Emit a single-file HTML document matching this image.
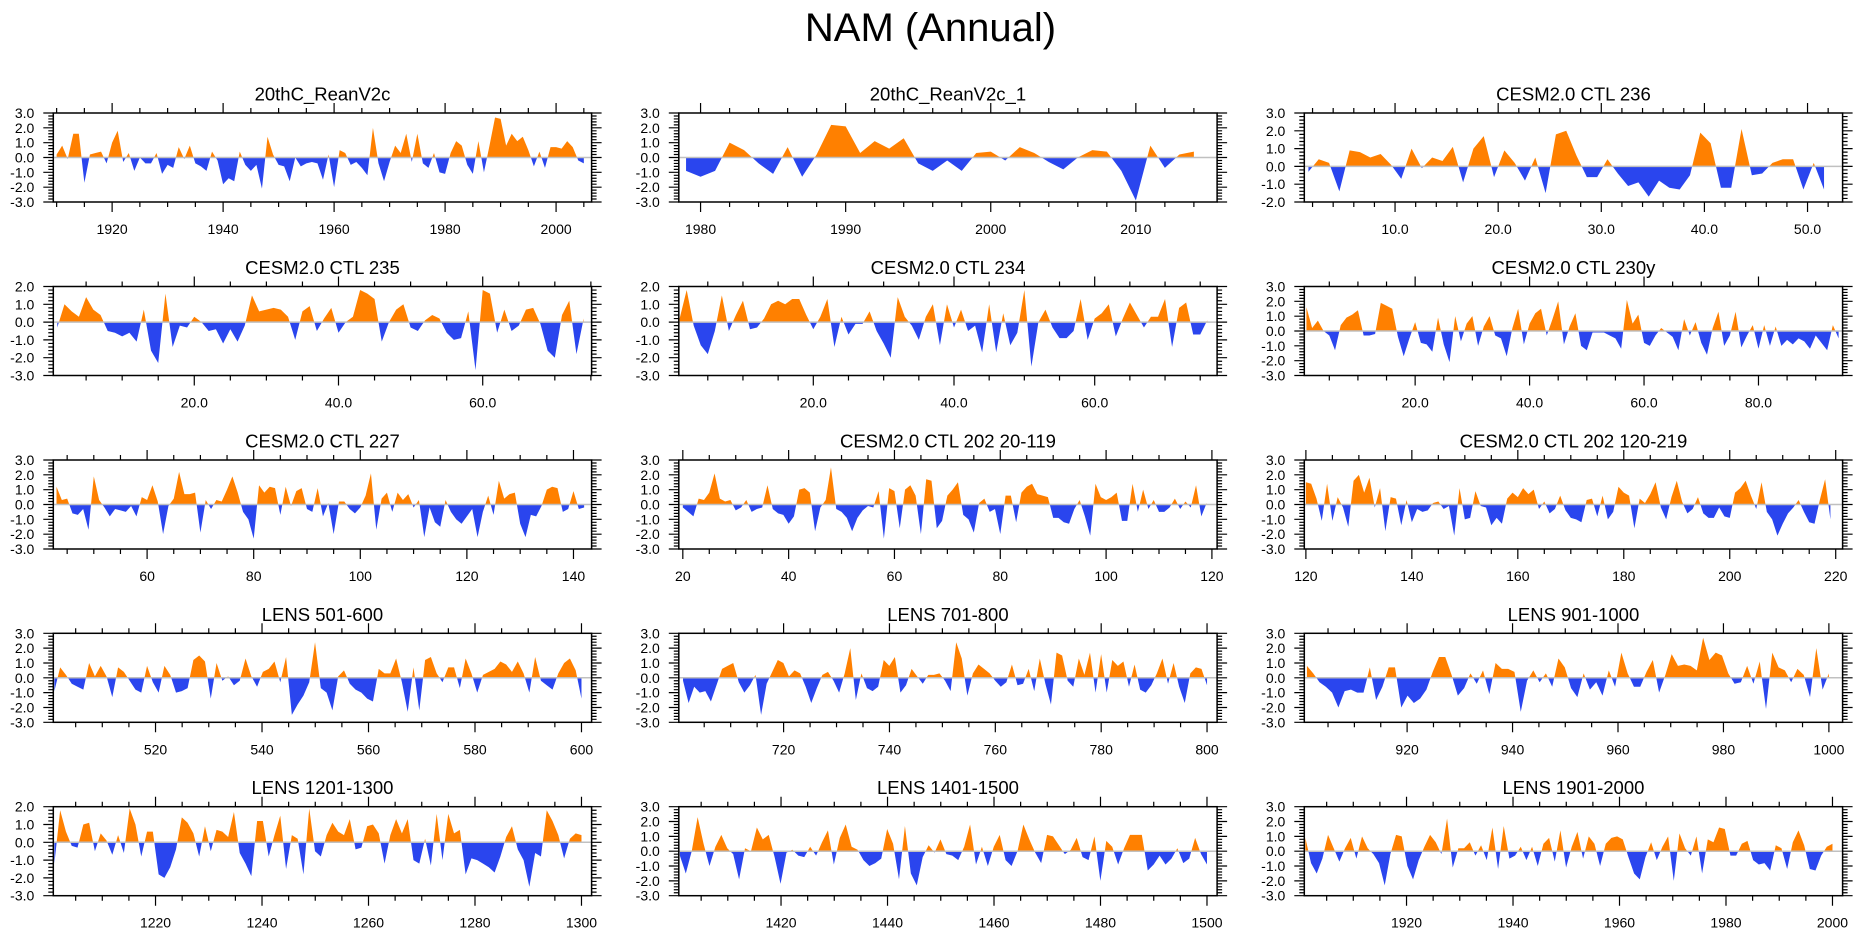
<!DOCTYPE html>
<html><head><meta charset="utf-8"><style>
html,body{margin:0;padding:0;background:#fff;}
svg{display:block;font-family:"Liberation Sans",Arial,sans-serif;}
</style></head><body>
<svg id="chart" width="1861" height="936" viewBox="0 0 1861 936" xmlns="http://www.w3.org/2000/svg">
<text x="930.5" y="28" font-size="40" text-anchor="middle" dominant-baseline="central">NAM (Annual)</text>
</svg>
<script>
const titles = ["20thC_ReanV2c","20thC_ReanV2c_1","CESM2.0 CTL 236","CESM2.0 CTL 235","CESM2.0 CTL 234","CESM2.0 CTL 230y","CESM2.0 CTL 227","CESM2.0 CTL 202 20-119","CESM2.0 CTL 202 120-219","LENS 501-600","LENS 701-800","LENS 901-1000","LENS 1201-1300","LENS 1401-1500","LENS 1901-2000"];
const xStart = [1910,1979,1.6,1,1,1,43,20,120,501,701,901,1201,1401,1901];
const xEnd = [2005,2014,51.6,74,76,94,142,119,219,600,800,1000,1300,1500,2000];
const axisXMin = [1909.4,1978.5,1.2,0.45,0.88,0.63,42.4,19.24,119.7,500.8,700.2,900.5,1200.8,1400.8,1900.8];
const axisXMax = [2006.4,2015.6,53.4,75.1,77.4,94.7,143.4,120.98,221.3,601.9,801.9,1002.6,1301.9,1501.9,2001.9];
const axisYMin = [-3,-3,-2,-3,-3,-3,-3,-3,-3,-3,-3,-3,-3,-3,-3];
const axisYMax = [3,3,3,2,2,3,3,3,3,3,3,3,2,3,3];
const majorStep = [20,10,10,20,20,20,20,20,20,20,20,20,20,20,20];
const minorStep = [5,2,2,5,5,5,5,5,5,5,5,5,5,5,5];
const labelDecimals = [0,0,1,1,1,1,0,0,0,0,0,0,0,0,0];

const p1Values = [0.2,0.8,-0.1,1.6,1.6,-1.7,0.2,0.3,0.4,-0.4,1.0,1.8,-0.3,0.3,-0.9,0.0,-0.4,-0.4,0.3,-1.1,-0.5,-0.7,0.7,-0.1,0.8,-0.4,-0.6,-0.9,0.4,-0.2,-1.8,-1.4,-1.6,0.4,-0.5,-0.9,-0.5,-2.1,1.4,0.2,-0.5,-0.6,-1.6,0.0,-0.6,-0.4,-0.3,-0.4,-1.5,0.2,-2.0,0.5,0.3,-0.5,-0.3,-0.7,-1.2,2.0,-0.4,-1.6,-0.3,0.8,0.3,1.6,-0.3,1.6,-0.4,-0.7,0.3,-1.0,-1.1,0.3,1.1,0.8,-0.5,-1.1,1.1,-1.0,0.8,2.7,2.6,0.8,1.6,1.1,1.4,0.5,-0.6,0.4,-0.7,0.7,0.7,0.6,1.1,0.7,-0.2,-0.4];
const p2Values = [-0.9,-1.3,-0.9,1.0,0.5,-0.4,-1.1,0.7,-1.3,0.2,2.2,2.1,0.3,1.1,0.6,1.3,-0.4,-0.9,-0.2,-0.9,0.3,0.4,-0.2,0.7,0.3,-0.3,-0.8,0.0,0.5,0.4,-0.9,-2.9,0.8,-0.7,0.2,0.4];
const p3Values = [-0.3,0.4,0.2,-1.4,0.9,0.8,0.5,0.7,0.1,-0.7,1.0,-0.1,0.5,0.3,1.1,-0.9,1.0,1.7,-0.6,0.9,0.2,-0.8,0.5,-1.5,1.8,2.0,0.6,-0.6,-0.6,0.4,-0.4,-1.1,-0.9,-1.7,-0.8,-1.2,-1.3,-0.5,1.9,1.3,-1.2,-1.2,2.1,-0.5,-0.4,0.2,0.4,0.4,-1.3,0.2,-1.3];
const p4Values = [-0.3,1.0,0.6,0.3,1.4,0.7,0.4,-0.5,-0.6,-0.8,-0.6,-1.1,0.7,-1.6,-2.3,1.6,-1.4,-0.2,-0.3,0.3,0.0,-0.5,-0.4,-1.2,-0.4,-1.1,-0.2,1.5,0.6,0.7,0.8,0.7,0.3,-1.0,0.6,0.9,-0.5,0.2,0.8,-0.6,0.0,0.3,1.8,1.6,1.3,-1.1,0.0,0.7,1.0,-0.3,-0.5,0.1,0.4,0.2,-0.6,-1.0,-0.9,0.6,-2.7,1.8,1.6,-0.6,0.7,-0.5,-0.2,0.7,0.8,-0.1,-1.6,-2.0,0.4,1.2,-1.8,0.2];
const p5Values = [0.2,1.8,-0.2,-1.3,-1.8,-0.5,1.5,-0.5,0.4,1.2,-0.4,-0.3,0.2,1.0,1.2,1.0,1.3,1.3,0.4,-0.4,0.3,1.3,-1.4,0.3,-0.7,-0.1,-0.1,0.6,-0.5,-1.2,-2.0,1.4,0.3,-0.2,-1.0,0.3,1.0,-1.3,1.0,-0.3,0.7,-0.5,-0.2,-1.7,1.0,-1.7,0.5,-1.3,-0.6,1.8,-2.5,0.0,0.7,-0.3,-0.9,-0.9,-0.5,1.3,-1.0,0.2,0.5,1.0,-0.8,0.2,1.1,0.4,-0.3,0.3,0.3,1.3,-1.4,0.8,1.1,-0.7,-0.7,0.1];
const p6Values = [1.6,0.2,0.7,0.0,-0.3,-1.3,0.4,0.9,1.1,1.4,-0.3,-0.3,-0.2,1.9,1.7,1.5,-0.4,-1.7,-0.5,0.6,-0.8,-0.9,-1.4,0.9,-0.9,-2.1,1.0,-0.7,0.5,1.0,-1.0,0.3,1.0,-0.3,-0.5,-1.7,0.2,1.5,-0.9,0.5,1.2,1.5,-0.3,0.8,2.0,-0.9,0.3,1.2,-1.0,-1.3,-0.1,-0.1,-0.1,-0.3,-0.5,-1.2,2.1,0.5,1.1,-0.8,-1.0,-0.3,0.2,-0.1,-0.4,-1.3,0.8,-0.3,0.6,-0.8,-1.6,0.2,1.3,-1.0,-0.3,1.3,-1.1,-0.3,0.4,-1.2,0.4,-1.0,0.3,-1.0,-0.6,-0.9,-0.5,-0.7,-1.2,-0.3,-0.8,-1.3,0.4,-0.5];
const p7Values = [1.2,0.3,0.4,-0.6,-0.7,-0.3,-1.7,1.9,0.3,-0.2,-0.8,-0.3,-0.4,-0.5,-0.1,-0.8,0.5,0.3,1.3,0.2,-2.0,-0.1,0.4,2.2,0.7,0.7,0.8,-1.9,0.3,-0.3,0.3,0.2,1.0,1.9,0.8,-0.5,-1.0,-2.3,1.3,0.8,1.2,1.1,-0.7,1.2,-0.1,0.9,1.1,-0.3,-0.5,1.1,-0.8,0.1,-2.0,0.2,0.2,-0.3,-0.6,-0.2,0.6,2.1,-1.7,0.4,0.8,-0.5,0.8,0.3,0.7,-0.2,0.3,-2.2,-0.2,-1.2,-1.5,0.3,-0.5,-1.0,-1.3,-0.8,-0.3,-2.2,-0.5,0.6,-0.7,1.6,0.4,0.7,0.8,-1.3,-2.2,-0.7,-0.8,-0.1,1.0,1.2,1.1,-0.5,-0.3,0.9,-0.3,-0.2];
const p8Values = [-0.2,-0.5,-0.8,0.4,0.3,0.8,2.1,0.4,0.2,0.3,-0.4,-0.2,0.3,-0.5,-0.3,-0.2,1.3,-0.3,-0.6,-0.7,-1.3,-0.8,1.0,1.1,0.8,-1.8,-0.2,0.3,2.5,-0.3,-0.5,-0.9,-1.8,-0.9,-0.4,-0.1,-0.2,0.9,-2.3,1.1,0.9,-1.6,1.0,1.3,0.6,-2.0,1.7,1.6,-1.6,-1.1,0.6,1.0,1.5,-0.7,-1.0,-1.9,0.1,0.4,-0.5,-0.3,-2.0,0.6,0.6,-1.2,0.8,1.2,1.4,0.7,0.6,0.5,-0.9,-0.9,-1.2,-1.3,-0.3,0.3,-0.8,-2.1,1.4,0.5,0.3,0.5,0.8,-1.1,-1.1,1.4,-0.5,1.0,-0.3,0.3,-0.5,-0.5,-0.2,0.4,-0.3,0.2,-0.2,1.3,-0.8,0.1];
const p9Values = [1.5,1.4,0.4,-1.1,1.4,-1.1,0.5,-0.2,-1.5,1.6,2.0,0.8,1.8,-0.2,1.1,-1.8,0.5,0.4,-1.4,0.3,-1.2,-0.3,-0.5,-0.4,0.1,0.2,-0.3,-0.1,-2.1,1.1,-1.0,-0.9,0.9,-0.1,-0.2,-1.4,-0.9,-1.3,0.4,0.8,0.5,1.1,0.7,1.0,-0.3,0.2,-0.6,-0.3,0.6,-0.4,-0.9,-1.0,-1.2,0.3,0.4,-0.8,0.6,-1.0,-0.5,1.2,0.8,0.6,-1.6,0.4,0.1,0.7,1.5,-0.2,-1.0,0.5,1.6,0.2,-0.6,-0.3,0.5,-0.6,-0.9,-0.9,-0.2,-0.8,-0.9,0.8,1.1,1.6,0.6,-0.3,1.5,-0.5,-1.0,-2.1,-1.3,-0.6,-0.2,0.3,-0.5,-1.2,-1.3,0.3,1.7,-1.0];
const p10Values = [-0.9,0.7,0.2,-0.4,-0.6,-0.8,1.0,0.1,0.8,0.1,-1.3,0.7,0.4,-0.2,-0.8,-1.0,0.8,-0.3,-1.0,0.8,0.2,-1.0,-0.9,-0.7,1.2,1.5,1.1,-1.4,1.0,-0.2,0.1,-0.5,-0.2,1.3,0.1,-0.6,0.4,0.6,1.1,-0.3,1.4,-2.5,-1.8,-1.2,-0.3,2.4,-0.7,-1.0,-2.2,0.1,0.5,-0.4,-0.8,-1.0,-1.4,-1.6,0.6,0.3,0.3,1.3,-0.3,-2.3,0.7,-2.2,1.2,1.4,0.3,-0.3,0.7,0.7,-0.7,1.3,0.3,-1.0,0.2,0.4,0.6,1.1,0.9,0.4,1.1,0.3,-1.0,1.4,-0.2,-0.5,-0.8,0.3,1.0,1.3,0.5,-1.4];
const p11Values = [-0.2,-1.7,-0.6,-1.0,-0.9,-1.6,-0.5,0.6,0.8,1.0,-0.3,-1.0,-0.5,0.2,-2.5,-0.4,0.4,1.2,1.0,0.1,0.5,0.3,-0.6,-1.7,-0.7,0.2,0.4,-0.2,-1.0,0.3,2.0,-1.5,0.3,-0.7,-0.9,-0.6,1.2,0.8,1.4,-1.0,-0.5,0.6,0.1,-0.4,0.2,0.2,0.3,-0.2,-0.9,2.4,1.3,-1.2,0.3,0.9,0.6,0.3,-0.2,-0.6,-0.3,0.9,-0.5,-0.4,0.6,-0.9,1.3,-0.4,-1.8,1.7,1.5,-0.2,-0.6,1.3,0.2,1.7,-1.0,1.6,-1.0,1.2,0.8,1.1,-0.6,0.9,-0.8,-1.0,-0.5,0.3,1.3,-0.4,1.0,-0.6,-1.7,0.3,0.7,0.6,-0.5];
const p12Values = [0.8,0.3,-0.3,-0.6,-1.0,-2.0,-0.9,-0.8,-1.0,-1.0,0.7,-1.5,-0.6,0.7,0.7,-2.0,-1.2,-1.7,-1.4,-0.8,0.4,1.4,1.4,0.2,-1.2,-0.7,0.3,-0.4,0.5,-1.1,1.0,0.6,0.6,0.4,-2.3,-0.2,0.5,-0.3,0.3,-0.6,1.3,0.7,-0.7,-1.3,0.3,-0.8,-0.3,-1.2,0.5,-0.6,1.7,0.3,-0.6,-0.6,0.4,1.2,-1.0,0.2,1.6,0.8,0.9,0.8,0.5,2.7,1.2,1.7,1.5,0.3,-0.4,-0.3,0.8,-0.4,1.1,-2.1,1.7,0.7,0.5,-0.3,0.6,0.2,-1.3,2.0,-0.8,0.3];
const p13Values = [-1.2,1.8,0.6,-0.2,-0.3,1.0,1.1,-0.5,0.5,0.1,-0.7,0.4,-0.6,1.9,1.0,-0.8,0.6,0.6,-1.8,-2.0,-1.4,-0.4,1.4,1.1,0.5,-0.8,0.9,-0.5,0.7,0.6,0.3,1.7,-0.6,-1.2,-1.9,1.2,1.2,-0.8,0.4,1.5,-1.5,0.4,0.2,-1.8,1.9,-0.5,-0.8,0.4,1.1,0.6,0.4,1.3,-0.4,-0.3,0.9,1.0,0.5,-1.2,0.4,1.3,0.5,1.3,-1.0,-1.2,0.2,-1.3,1.6,-1.0,1.6,0.5,0.7,-1.8,-0.9,-1.0,-1.2,-1.4,-1.7,-0.8,0.3,0.9,-0.4,-1.0,-2.5,-0.6,-0.8,1.8,1.2,0.4,-0.9,0.2,0.5,0.4];
const p14Values = [-0.3,-1.5,0.0,2.3,0.5,-1.0,0.3,1.1,0.2,-0.2,-1.9,0.2,0.0,1.6,0.8,1.1,-0.4,-2.2,-0.1,0.1,-0.3,-0.4,0.3,-0.3,0.6,1.4,-0.9,0.9,1.8,0.3,0.1,-0.6,-1.0,-0.8,-0.5,1.5,0.5,-1.9,1.7,-1.5,-2.3,-0.4,0.4,-0.1,0.8,-0.2,-0.3,-0.6,0.3,1.8,-0.9,0.3,-1.0,0.3,1.1,-0.6,-1.0,0.0,1.8,0.8,-0.1,-0.8,1.1,1.0,0.4,-0.2,0.1,0.9,-0.4,-0.6,1.0,-2.0,0.7,0.3,-0.9,0.2,1.1,1.1,1.1,-1.3,-0.9,-0.3,-0.9,-0.5,0.2,-0.8,-0.5,0.9,-0.2,-0.9];
const p15Values = [0.9,-0.8,-1.5,-0.5,1.1,0.2,-0.7,0.2,0.9,-0.5,1.0,0.2,-0.2,-0.8,-2.3,-0.2,1.1,1.0,-1.0,-1.9,-0.6,0.3,1.1,0.6,-0.2,2.2,-1.1,0.2,0.2,0.6,-0.3,0.4,-0.6,1.6,-1.2,1.7,-0.5,-0.3,0.3,-0.6,0.3,-1.0,0.5,0.9,-0.7,1.4,-1.1,0.3,1.3,-0.5,1.0,0.5,-1.0,0.5,0.9,1.0,0.8,-0.4,-1.5,-1.9,-0.4,0.6,-0.6,0.3,1.0,-2.0,1.2,0.2,-0.3,1.0,-1.5,0.8,0.6,1.6,1.5,-0.3,-0.3,0.5,0.7,-0.6,-0.9,-0.8,-1.3,0.4,0.2,-1.2,0.6,1.4,0.4,-1.2,-1.3,-0.3,0.3,0.5];
const allValues = [p1Values,p2Values,p3Values,p4Values,p5Values,p6Values,p7Values,p8Values,p9Values,p10Values,p11Values,p12Values,p13Values,p14Values,p15Values];

const NS = "http://www.w3.org/2000/svg";
const svg = document.getElementById("chart");
const colLeft = [53.3, 678.8, 1304.3];
const rowTop = [113, 286.5, 460, 633.3, 806.7];
const PW = 538.3, PH = 89;
function mk(tag, attrs, parent) {
  const e = document.createElementNS(NS, tag);
  for (const k in attrs) e.setAttribute(k, attrs[k]);
  parent.appendChild(e);
  return e;
}
function fmt(v, d) { return v.toFixed(d); }

for (let p = 0; p < 15; p++) {
  const L = colLeft[p % 3], T = rowTop[Math.floor(p / 3)], R = L + PW, B = T + PH;
  const xmin = axisXMin[p], xmax = axisXMax[p], ymin = axisYMin[p], ymax = axisYMax[p];
  const xs = v => L + (v - xmin) / (xmax - xmin) * PW;
  const ys = v => B - (v - ymin) / (ymax - ymin) * PH;
  const g = mk("g", {}, svg);
  
  

  const t = mk("text", {x: (L + R) / 2, y: T - 19, "font-size": 18.5, "text-anchor": "middle", "dominant-baseline": "central"}, g);
  t.textContent = titles[p];
  
  

  const vals = allValues[p];
  const n = vals.length;
  const step = (xEnd[p] - xStart[p]) / (n - 1);
  const y0 = ys(0);
  let pts = xs(xStart[p]).toFixed(2) + "," + y0.toFixed(2);
  for (let i = 0; i < n; i++) pts += " " + xs(xStart[p] + i * step).toFixed(2) + "," + ys(vals[i]).toFixed(2);
  pts += " " + xs(xEnd[p]).toFixed(2) + "," + y0.toFixed(2);

  const defs = mk("defs", {}, g);
  const cu = mk("clipPath", {id: "cu" + p}, defs);
  mk("rect", {x: L, y: T, width: PW, height: y0 - T}, cu);
  const cd = mk("clipPath", {id: "cd" + p}, defs);
  mk("rect", {x: L, y: y0, width: PW, height: B - y0}, cd);

  const up = mk("polygon", {points: pts, fill: "#ff8000", "clip-path": "url(#cu" + p + ")"}, g);
  
  
  const dn = mk("polygon", {points: pts, fill: "#2a45ee", "clip-path": "url(#cd" + p + ")"}, g);
  
  

  const zl = mk("line", {x1: L, x2: R, y1: y0, y2: y0, stroke: "#c0c0c0", "stroke-width": 1.5}, g);
  
  

  const fr = mk("rect", {x: L, y: T, width: PW, height: PH, fill: "none", stroke: "#000", "stroke-width": 1.5}, g);
  
  

  // x ticks
  let tk = "";
  const ms = minorStep[p], Ms = majorStep[p];
  for (let v = Math.ceil(xmin / ms) * ms; v <= xmax + 1e-9; v += ms) {
    const X = xs(v);
    const major = Math.abs(v / Ms - Math.round(v / Ms)) < 1e-6;
    const len = major ? 10 : 5;
    tk += `M${X},${T}v${-len}M${X},${B}v${len}`;
    if (major) {
      const lab = mk("text", {x: X, y: B + 27, "font-size": 14, "text-anchor": "middle", "dominant-baseline": "central"}, g);
      lab.textContent = fmt(v, labelDecimals[p]);
      
      
    }
  }
  // y ticks
  for (let k = Math.round(ymin * 5); k <= Math.round(ymax * 5); k++) {
    const v = k / 5, Y = ys(v);
    const major = k % 5 === 0;
    const len = major ? 10 : 5;
    tk += `M${L},${Y}h${-len}M${R},${Y}h${len}`;
    if (major) {
      const lab = mk("text", {x: L - 19, y: Y, "font-size": 14, "text-anchor": "end", "dominant-baseline": "central"}, g);
      lab.textContent = fmt(v, 1);
      
      
    }
  }
  const tp = mk("path", {d: tk, stroke: "#000", "stroke-width": 1.2, fill: "none"}, g);
  
  
}
</script>
</body></html>
